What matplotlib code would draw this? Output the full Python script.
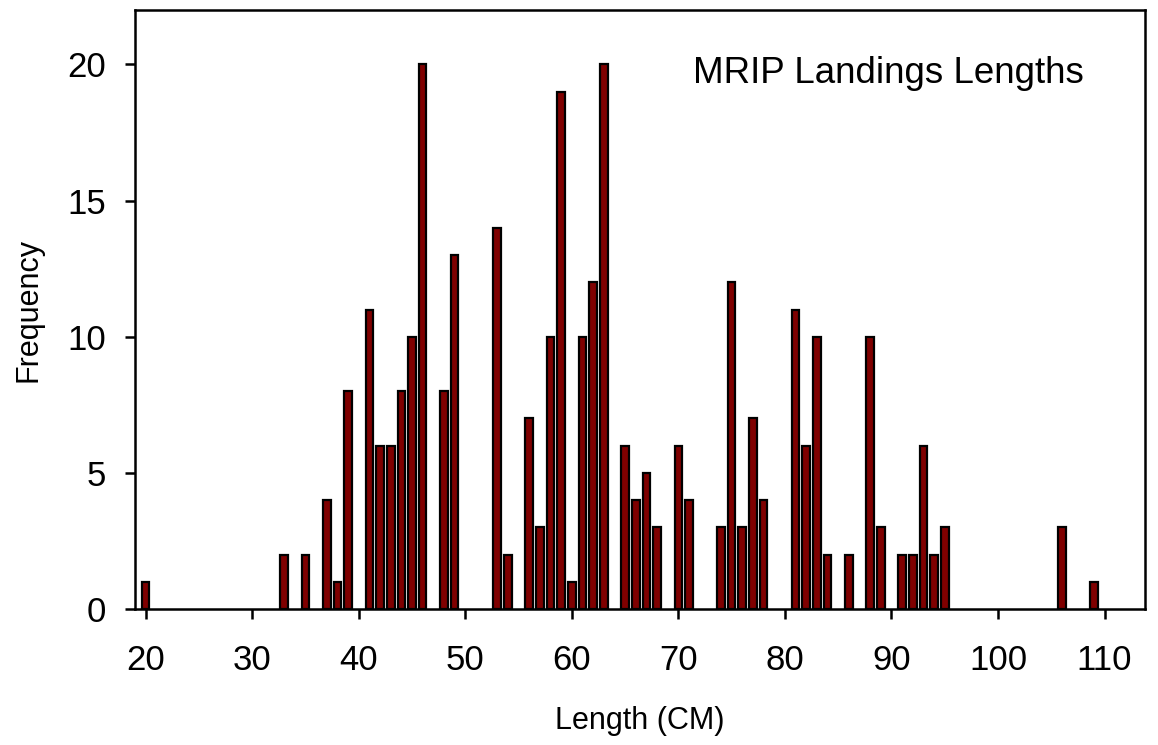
import matplotlib
matplotlib.use("Agg")
import matplotlib.pyplot as plt

# length (cm) and frequency of MRIP landings
lengths = [20, 33, 35, 37, 38, 39, 41, 42, 43, 44, 45, 46, 48, 49,
           53, 54, 56, 57, 58, 59, 60, 61, 62, 63, 65, 66, 67, 68,
           70, 71, 74, 75, 76, 77, 78, 81, 82, 83, 84, 86, 88, 89,
           91, 92, 93, 94, 95, 106, 109]
counts = [1, 2, 2, 4, 1, 8, 11, 6, 6, 8, 10, 20, 8, 13,
          14, 2, 7, 3, 10, 19, 1, 10, 12, 20, 6, 4, 5, 3,
          6, 4, 3, 12, 3, 7, 4, 11, 6, 10, 2, 2, 10, 3,
          2, 2, 6, 2, 3, 3, 1]
xticks = [20, 30, 40, 50, 60, 70, 80, 90, 100, 110]
yticks = [0, 5, 10, 15, 20]

plt.rcParams['font.family'] = ['Liberation Sans', 'DejaVu Sans']

fig = plt.figure(figsize=(11.58, 7.45), dpi=100)
ax = fig.add_axes([135 / 1158, 1 - 609 / 745, 1010 / 1158, 599 / 745])

ax.bar(lengths, counts, width=0.72, color='#7f0000', edgecolor='black',
       linewidth=1.6, zorder=2)

ax.set_xlim(19, 113.8)
ax.set_ylim(0, 22)
ax.set_xticks(xticks)
ax.set_yticks(yticks)

for s in ax.spines.values():
    s.set_linewidth(1.8)
ax.tick_params(axis='both', direction='out', length=7, width=1.8,
               labelsize=25)
ax.tick_params(axis='x', pad=18)
ax.tick_params(axis='y', pad=14)

ax.set_xlabel("Length (CM)", fontsize=22, labelpad=21)
ax.set_ylabel("Frequency", fontsize=22, labelpad=17)

ax.text(0.552, 0.878, "MRIP Landings Lengths", transform=ax.transAxes,
        fontsize=26.5, ha='left', va='baseline')

fig.savefig("out.png", dpi=100)
